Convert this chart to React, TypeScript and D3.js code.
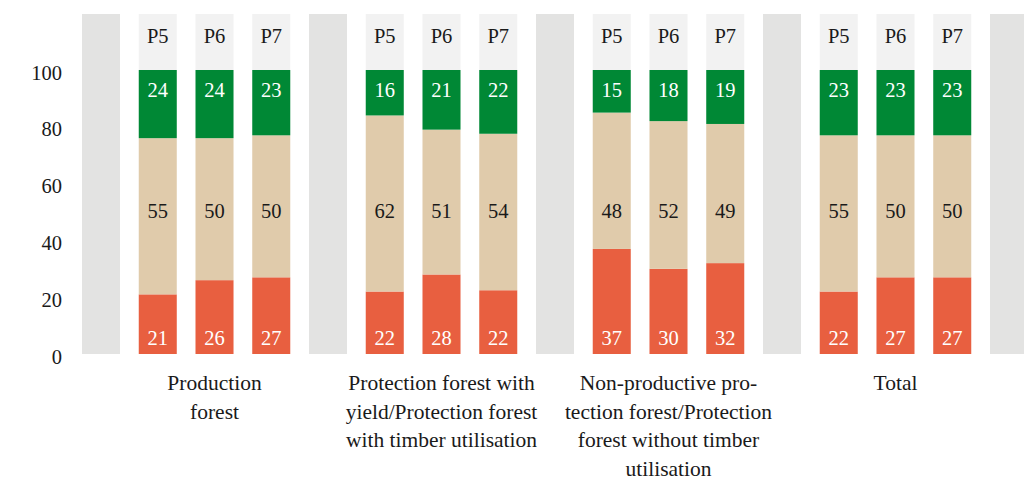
import React from "react";
import * as d3 from "d3";

const categories = [
  ["Production", "forest"],
  ["Protection forest with", "yield/Protection forest", "with timber utilisation"],
  ["Non-productive pro-", "tection forest/Protection", "forest without timber", "utilisation"],
  ["Total"],
];
const periods = ["P5", "P6", "P7"];
// values per category, per period
const redValues = [
  [21, 26, 27],
  [22, 28, 22],
  [37, 30, 32],
  [22, 27, 27],
];
const beigeValues = [
  [55, 50, 50],
  [62, 51, 54],
  [48, 52, 49],
  [55, 50, 50],
];
const greenValues = [
  [24, 24, 23],
  [16, 21, 22],
  [15, 18, 19],
  [23, 23, 23],
];
const yTicks = [0, 20, 40, 60, 80, 100];

const W = 1024;
const H = 482;
const FONT = "Liberation Serif, DejaVu Serif, Times New Roman, serif";
const COLORS = { red: "#e85f40", beige: "#e0cbab", green: "#008835" };

export default function App() {
  const nSlots = categories.length * (periods.length + 1) + 1;
  const x = d3
    .scaleBand<number>()
    .domain(d3.range(nSlots))
    .range([82, 1028])
    .paddingInner(0.33)
    .paddingOuter(0);
  const y = d3.scaleLinear().domain([0, 100]).range([354, 70]);
  const bw = x.bandwidth();

  const rows = [] as any[];
  categories.forEach((_, g) => {
    periods.forEach((p, i) => {
      rows.push({
        slot: g * (periods.length + 1) + 1 + i,
        period: p,
        red: redValues[g][i],
        beige: beigeValues[g][i],
        green: greenValues[g][i],
      });
    });
  });
  const keys = ["red", "beige", "green"];
  const stack = d3.stack<any>().keys(keys).offset(d3.stackOffsetExpand);
  const series = stack(rows);

  const separators = d3.range(categories.length + 1).map((g) => g * (periods.length + 1));
  const txt = { fontFamily: FONT, fontSize: 20.5 } as React.CSSProperties;
  const catTxt = { fontFamily: FONT, fontSize: 21.5 } as React.CSSProperties;

  return (
    <svg
      width={W}
      height={H}
      style={{ position: "absolute", left: 0, top: 0, background: "#fff" }}
    >
      {separators.map((s) => (
        <rect key={"sep" + s} x={x(s)} y={14} width={bw} height={y(0) - 14} fill="#e3e3e2" />
      ))}
      {rows.map((r) => (
        <g key={"h" + r.slot}>
          <rect x={x(r.slot)} y={14} width={bw} height={y(100) - 14} fill="#f2f2f2" />
          <text x={x(r.slot)! + bw / 2} y={43} textAnchor="middle" style={txt} fill="#1a1a1a">
            {r.period}
          </text>
        </g>
      ))}
      {series.map((s) =>
        s.map((d: any, i: number) => (
          <rect
            key={s.key + i}
            x={x(d.data.slot)}
            y={y(d[1] * 100)}
            width={bw}
            height={y(d[0] * 100) - y(d[1] * 100)}
            fill={(COLORS as any)[s.key]}
          />
        ))
      )}
      {rows.map((r) => {
        const cx = x(r.slot)! + bw / 2;
        return (
          <g key={"l" + r.slot} textAnchor="middle">
            <text x={cx} y={y(100) + 27} fill="#fff" style={txt}>
              {r.green}
            </text>
            <text x={cx} y={y(50) + 6} fill="#1a1a1a" style={txt}>
              {r.beige}
            </text>
            <text x={cx} y={y(0) - 9} fill="#fff" style={txt}>
              {r.red}
            </text>
          </g>
        );
      })}
      {yTicks.map((t) => (
        <text key={"t" + t} x={62} y={y(t) + 9.5} textAnchor="end" style={txt} fill="#1a1a1a">
          {t}
        </text>
      ))}
      {categories.map((lines, g) => {
        const cx = x(g * (periods.length + 1) + 2)! + bw / 2;
        return (
          <text key={"c" + g} textAnchor="middle" style={catTxt} fill="#1a1a1a">
            {lines.map((ln, j) => (
              <tspan key={j} x={cx} y={390 + j * 28.5}>
                {ln}
              </tspan>
            ))}
          </text>
        );
      })}
    </svg>
  );
}
